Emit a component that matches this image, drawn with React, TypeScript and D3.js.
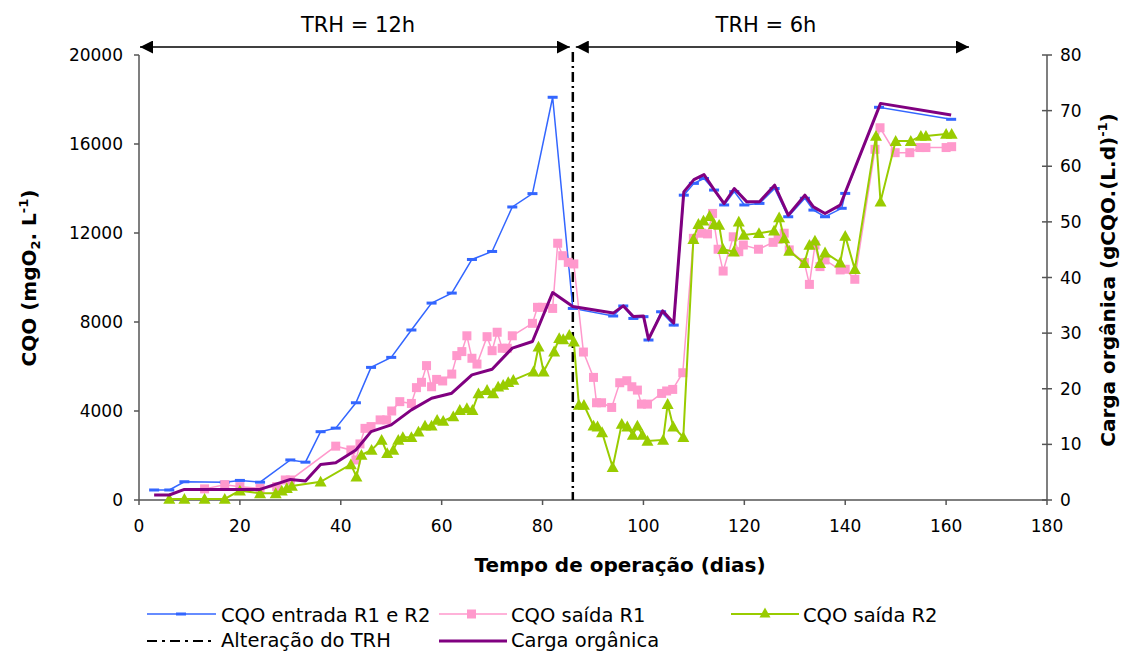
import React from "react";
import * as d3 from "d3";

const entradaDays = [3, 6, 9, 17, 20, 24, 30, 33, 36, 39, 43, 46, 50, 54, 58, 62, 66, 70, 74, 78, 82, 86, 94, 96, 98, 100, 101, 103.5, 106, 108, 110, 112, 114, 116, 118, 120, 123, 126, 128.7, 132, 133.7, 136, 139.3, 140, 146.7, 161];
const entradaVals = [450, 450, 820, 800, 880, 800, 1800, 1700, 3070, 3230, 4370, 5960, 6410, 7640, 8850, 9300, 10810, 11170, 13170, 13770, 18100, 8610, 8270, 8720, 8160, 8240, 7190, 8460, 7860, 13700, 14230, 14450, 13930, 13260, 13860, 13260, 13330, 14000, 12730, 13560, 13030, 12730, 13110, 13780, 17650, 17110];

const r1Days = [13, 17, 20, 24, 27.3, 29, 30, 39, 42, 43, 43.8, 44.8, 46, 47.8, 49.1, 50.1, 51.7, 54, 55, 56, 57, 58, 59, 60.2, 62, 63, 64, 65, 66, 67, 69, 70, 71, 72, 73, 74, 78, 79, 80, 82, 83, 84, 85.1, 86.2, 88.1, 90.1, 90.7, 91.7, 93.7, 95.3, 96.7, 97.7, 98.8, 99.6, 100.8, 103.6, 104.6, 105.8, 107.8, 109.9, 111.5, 112.7, 113.7, 114.8, 115.8, 117.8, 118.9, 119.8, 122.8, 125.7, 126.7, 127.9, 128.9, 131.9, 132.9, 134, 135, 136, 139, 140, 141.9, 145.9, 146.9, 149.9, 152.8, 154.8, 156, 160, 161.1];
const r1Vals = [500, 690, 600, 520, 600, 900, 900, 2420, 2250, 1800, 2520, 3220, 3300, 3600, 3600, 4000, 4420, 4340, 5050, 5290, 6040, 5090, 5420, 5350, 5660, 6490, 6670, 7380, 6370, 6110, 7340, 6710, 7540, 6820, 6820, 7380, 7940, 8660, 8660, 8610, 11540, 10980, 10680, 10610, 6650, 5510, 4370, 4370, 4160, 5270, 5360, 5090, 4940, 4310, 4310, 4790, 4900, 4970, 5720, 11760, 11990, 11960, 12880, 11270, 10290, 11830, 11160, 11460, 11270, 11580, 11720, 11990, 11240, 10670, 9690, 11460, 10490, 10790, 10340, 10370, 9920, 15760, 16730, 15610, 15610, 15840, 15840, 15840, 15880];

const r2Days = [6, 9, 13, 17, 20, 24, 27.1, 28.3, 29.3, 30.3, 36, 42, 43.1, 44.1, 46.1, 48.1, 49.2, 50.4, 51.4, 52.3, 54, 55.4, 56.7, 58, 59.1, 60.3, 62.3, 63.6, 65, 66.1, 67.3, 69, 70.2, 71.2, 72.2, 73.2, 74.2, 78.2, 79.2, 80.2, 82.3, 83.3, 84.1, 85.3, 86.2, 87.2, 88.2, 90.1, 90.9, 91.8, 93.9, 95.7, 96.8, 97.9, 98.8, 99.8, 100.8, 103.9, 104.8, 105.9, 107.9, 109.9, 110.9, 111.9, 113.1, 114, 115, 115.8, 117.9, 118.9, 119.9, 122.9, 125.9, 126.9, 127.9, 128.9, 131.9, 132.9, 134, 135, 136, 139, 140, 141.9, 146.1, 147, 150, 153, 155, 156, 160, 161.1];
const r2Vals = [50, 50, 50, 50, 420, 300, 300, 420, 525, 630, 820, 1600, 1050, 2020, 2250, 2700, 2100, 2250, 2700, 2820, 2820, 3070, 3340, 3340, 3600, 3550, 3750, 4040, 4120, 4040, 4790, 4940, 4790, 5090, 5170, 5290, 5390, 5770, 6890, 5770, 6670, 7270, 7220, 7420, 7120, 4270, 4270, 3340, 3300, 3040, 1470, 3420, 3300, 2920, 3340, 2920, 2650, 2700, 4310, 3300, 2820, 11720, 12400, 12550, 12760, 12400, 12360, 11270, 11160, 12510, 11910, 11990, 12100, 12700, 11760, 11190, 10640, 11460, 11650, 10640, 11120, 10670, 11870, 10370, 16360, 13410, 16130, 16130, 16360, 16360, 16450, 16450];

const cargaDays = [3, 6, 9, 13, 17, 20, 24, 30, 33, 36, 39, 43, 46, 50, 54, 58, 62, 66, 70, 74, 78, 82, 86, 94, 96, 98, 100, 101, 103.8, 106, 108, 110, 112, 114, 116, 118, 120.5, 123, 126, 128.7, 132, 133.7, 136, 139, 147, 161];
const cargaVals = [0.9, 0.9, 1.9, 1.9, 1.9, 1.9, 1.9, 3.7, 3.4, 6.4, 6.7, 9.0, 12.3, 13.5, 16.2, 18.3, 19.2, 22.5, 23.5, 27.3, 28.5, 37.3, 34.8, 33.6, 34.9, 33.0, 33.1, 28.9, 34.0, 31.8, 55.4, 57.6, 58.5, 55.8, 53.3, 56.0, 53.6, 53.6, 56.6, 51.2, 54.8, 52.7, 51.5, 53.0, 71.3, 69.2];

const xTicks = [0, 20, 40, 60, 80, 100, 120, 140, 160, 180];
const yLeftTicks = [0, 4000, 8000, 12000, 16000, 20000];
const yRightTicks = [0, 10, 20, 30, 40, 50, 60, 70, 80];
const trhChangeDay = 86;

const BLUE = "#3366ff";
const PINK = "#ff99cc";
const GREEN = "#99cc00";
const PURPLE = "#800080";
const AXIS = "#555555";
const FONT = "'DejaVu Sans', Verdana, sans-serif";

export default function App() {
  const x = d3.scaleLinear().domain([0, 180]).range([139, 1047]);
  const yL = d3.scaleLinear().domain([0, 20000]).range([500, 55]);
  const yR = d3.scaleLinear().domain([0, 80]).range([500, 55]);

  const pts = (days: number[], vals: number[], ys: d3.ScaleLinear<number, number>) =>
    days.map((d, i) => [x(d), ys(vals[i])] as [number, number]);
  const line = d3.line();

  const entrada = pts(entradaDays, entradaVals, yL);
  const r1 = pts(r1Days, r1Vals, yL);
  const r2 = pts(r2Days, r2Vals, yL);
  const carga = pts(cargaDays, cargaVals, yR);

  const tri = (cx: number, cy: number, s = 6) =>
    `M${cx},${cy - s} L${cx + s},${cy + s * 0.8} L${cx - s},${cy + s * 0.8} Z`;

  const xChange = x(trhChangeDay);

  return (
    <svg width={1134} height={653} style={{ position: "absolute", left: 0, top: 0, background: "#fff" }} fontFamily={FONT}>
      <defs>
        <marker id="ah" viewBox="0 0 10 10" refX="10" refY="5" markerWidth="13" markerHeight="13" markerUnits="userSpaceOnUse" orient="auto-start-reverse">
          <path d="M0,0 L10,5 L0,10 Z" fill="#000" />
        </marker>
      </defs>
      <rect width={1134} height={653} fill="#fff" />

      {/* axes */}
      <line x1={139} x2={1047} y1={500} y2={500} stroke={AXIS} strokeWidth={1.5} />
      <line x1={139} x2={139} y1={55} y2={500} stroke={AXIS} strokeWidth={1.5} />
      <line x1={1047} x2={1047} y1={55} y2={500} stroke={AXIS} strokeWidth={1.5} />
      {xTicks.map((t) => (
        <g key={"xt" + t}>
          <line x1={x(t)} x2={x(t)} y1={500} y2={505} stroke={AXIS} strokeWidth={1.5} />
          <text x={x(t)} y={532} textAnchor="middle" fontSize={17} fill="#000">{t}</text>
        </g>
      ))}
      {yLeftTicks.map((t) => (
        <g key={"yl" + t}>
          <line x1={134} x2={139} y1={yL(t)} y2={yL(t)} stroke={AXIS} strokeWidth={1.5} />
          <text x={123} y={yL(t) + 6} textAnchor="end" fontSize={17} fill="#000">{t}</text>
        </g>
      ))}
      {yRightTicks.map((t) => (
        <g key={"yr" + t}>
          <line x1={1042} x2={1052} y1={yR(t)} y2={yR(t)} stroke={AXIS} strokeWidth={1.5} />
          <text x={1060} y={yR(t) + 6} textAnchor="start" fontSize={17} fill="#000">{t}</text>
        </g>
      ))}

      {/* axis titles */}
      <text x={620} y={572} textAnchor="middle" fontSize={20} fontWeight="bold">Tempo de operação (dias)</text>
      <text transform="translate(36,278) rotate(-90)" textAnchor="middle" fontSize={20} fontWeight="bold">
        CQO (mgO<tspan fontSize={13} dy={4}>2</tspan><tspan dy={-4}>. L</tspan><tspan fontSize={13} dy={-8}>-1</tspan><tspan dy={8}>)</tspan>
      </text>
      <text transform="translate(1115,280) rotate(-90)" textAnchor="middle" fontSize={20} fontWeight="bold">
        Carga orgânica (gCQO.(L.d)<tspan fontSize={13} dy={-8}>-1</tspan><tspan dy={8}>)</tspan>
      </text>

      {/* TRH change line */}
      <line x1={xChange} x2={xChange} y1={52} y2={500} stroke="#000" strokeWidth={2.5} strokeDasharray="10,4,2,4" />

      {/* top arrows */}
      <line x1={140} x2={xChange - 3} y1={47} y2={47} stroke="#000" strokeWidth={1.5} markerStart="url(#ah)" markerEnd="url(#ah)" />
      <line x1={xChange + 3} x2={969} y1={47} y2={47} stroke="#000" strokeWidth={1.5} markerStart="url(#ah)" markerEnd="url(#ah)" />
      <text x={358} y={32} textAnchor="middle" fontSize={21}>TRH = 12h</text>
      <text x={766} y={32} textAnchor="middle" fontSize={21}>TRH = 6h</text>

      {/* entrada */}
      <path d={line(entrada) || ""} fill="none" stroke={BLUE} strokeWidth={1.5} />
      {entrada.map(([cx, cy], i) => (
        <rect key={"e" + i} x={cx - 5} y={cy - 1.5} width={10} height={3} fill={BLUE} />
      ))}

      {/* R1 */}
      <path d={line(r1) || ""} fill="none" stroke={PINK} strokeWidth={1.5} />
      {r1.map(([cx, cy], i) => (
        <rect key={"r1" + i} x={cx - 4.5} y={cy - 4.5} width={9} height={9} fill={PINK} />
      ))}

      {/* R2 */}
      <path d={line(r2) || ""} fill="none" stroke={GREEN} strokeWidth={2} />
      {r2.map(([cx, cy], i) => (
        <path key={"r2" + i} d={tri(cx, cy)} fill={GREEN} />
      ))}

      {/* carga */}
      <path d={line(carga) || ""} fill="none" stroke={PURPLE} strokeWidth={3} strokeLinejoin="round" />

      {/* legend */}
      <g fontSize={19.5}>
        <line x1={147} x2={216} y1={614} y2={614} stroke={BLUE} strokeWidth={1.5} />
        <rect x={176} y={612.5} width={10} height={3} fill={BLUE} />
        <text x={221} y={622}>CQO entrada R1 e R2</text>

        <line x1={439} x2={507} y1={614} y2={614} stroke={PINK} strokeWidth={1.5} />
        <rect x={467} y={609.5} width={9} height={9} fill={PINK} />
        <text x={511} y={622}>CQO saída R1</text>

        <line x1={731} x2={799} y1={614} y2={614} stroke={GREEN} strokeWidth={2} />
        <path d={tri(765, 613, 5.5)} fill={GREEN} />
        <text x={803} y={622}>CQO saída R2</text>

        <line x1={147} x2={216} y1={641} y2={641} stroke="#000" strokeWidth={2} strokeDasharray="10,5,3,5" />
        <text x={221} y={647}>Alteração do TRH</text>

        <line x1={439} x2={507} y1={641} y2={641} stroke={PURPLE} strokeWidth={3} />
        <text x={511} y={647}>Carga orgânica</text>
      </g>
    </svg>
  );
}
